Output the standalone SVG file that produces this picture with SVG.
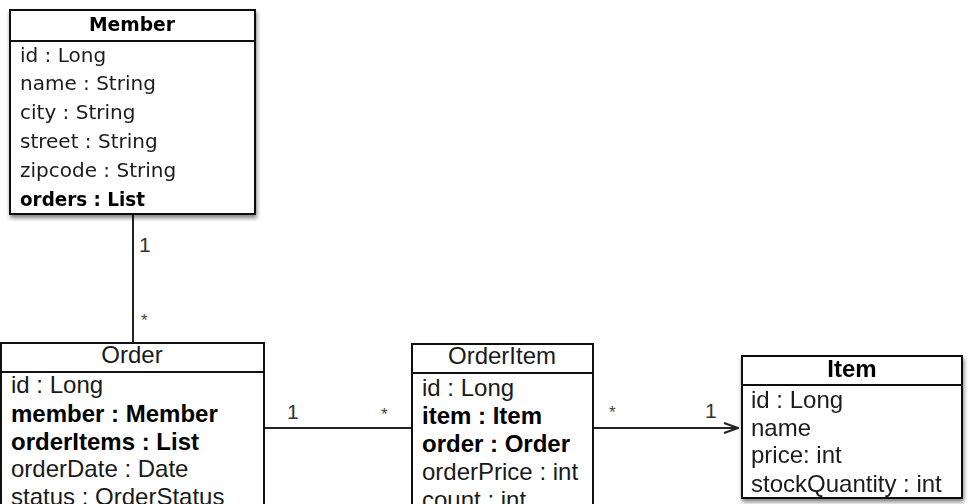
<svg xmlns="http://www.w3.org/2000/svg" width="970" height="504" viewBox="0 0 970 504">
<defs>
<filter id="sh" x="-10%" y="-10%" width="125%" height="125%">
<feGaussianBlur in="SourceAlpha" stdDeviation="2"/>
<feOffset dx="1" dy="3" result="b"/>
<feComponentTransfer><feFuncA type="linear" slope="0.5"/></feComponentTransfer>
<feMerge><feMergeNode/><feMergeNode in="SourceGraphic"/></feMerge>
</filter>
<marker id="open" viewBox="0 0 16 12" refX="15" refY="6" markerWidth="16" markerHeight="12" markerUnits="userSpaceOnUse" orient="auto">
<path d="M1,1 L15,6 L1,11" fill="none" stroke="#222" stroke-width="2"/>
</marker>
</defs>
<style>
.box{fill:#fff;stroke:#111;stroke-width:2}
.ln{stroke:#111;stroke-width:2}
.t{font-family:"Liberation Sans",Arial,sans-serif;font-size:24px;fill:#1a1a1a}
.tm{font-family:"DejaVu Sans","Liberation Sans",sans-serif;font-size:20px;fill:#1a1a1a}
.b{font-weight:bold;fill:#000}
.c{text-anchor:middle}
.lbl{font-family:"Liberation Sans",Arial,sans-serif;font-size:21px;fill:#333}
.st{font-family:"Liberation Sans",Arial,sans-serif;font-size:17px;fill:#444}
.conn{stroke:#222;stroke-width:2;fill:none}
</style>
<rect width="970" height="504" fill="#fff"/>
<g id="connectors">
<line class="conn" x1="133" y1="215" x2="133" y2="343"/>
<text class="lbl" x="139" y="252">1</text>
<text class="st" x="141" y="326">*</text>
<line class="conn" x1="264" y1="428" x2="412" y2="428"/>
<text class="lbl" x="287" y="419">1</text>
<text class="st" x="381" y="420">*</text>
<line class="conn" x1="593" y1="428" x2="738" y2="428" marker-end="url(#open)"/>
<text class="st" x="609" y="418">*</text>
<text class="lbl" x="705" y="418">1</text>
</g>
<g id="member" filter="url(#sh)">
<rect class="box" x="10" y="10" width="245" height="204"/>
<line class="ln" x1="10" y1="41" x2="255" y2="41"/>
<text class="tm b c" x="132" y="31" textLength="86" lengthAdjust="spacingAndGlyphs">Member</text>
<text class="tm" x="20" y="62">id : Long</text>
<text class="tm" x="20" y="90">name : String</text>
<text class="tm" x="20" y="119">city : String</text>
<text class="tm" x="20" y="148" fill="#333">street : String</text>
<text class="tm" x="20" y="177" fill="#333">zipcode : String</text>
<text class="tm b" x="20" y="206" textLength="125" lengthAdjust="spacingAndGlyphs">orders : List</text>
</g>
<g id="order">
<rect class="box" x="1" y="343" width="263" height="180"/>
<line class="ln" x1="1" y1="372" x2="264" y2="372"/>
<text class="t c" x="132" y="363">Order</text>
<text class="t" x="11" y="393">id : Long</text>
<text class="t b" x="11" y="422">member : Member</text>
<text class="t b" x="11" y="450">orderItems : List</text>
<text class="t" x="11" y="477" fill="#333">orderDate : Date</text>
<text class="t" x="11" y="505" fill="#333">status : OrderStatus</text>
</g>
<g id="orderitem">
<rect class="box" x="412" y="344" width="181" height="180"/>
<line class="ln" x1="412" y1="373" x2="593" y2="373"/>
<text class="t c" x="502" y="364">OrderItem</text>
<text class="t" x="422" y="396">id : Long</text>
<text class="t b" x="422" y="424">item : Item</text>
<text class="t b" x="422" y="452">order : Order</text>
<text class="t" x="422" y="480" fill="#333">orderPrice : int</text>
<text class="t" x="422" y="508" fill="#333">count : int</text>
</g>
<g id="item" filter="url(#sh)">
<rect class="box" x="742" y="356" width="220" height="142"/>
<line class="ln" x1="742" y1="385" x2="962" y2="385"/>
<text class="t b c" x="852" y="377">Item</text>
<text class="t" x="751" y="408">id : Long</text>
<text class="t" x="751" y="436">name</text>
<text class="t" x="751" y="463">price: int</text>
<text class="t" x="751" y="492">stockQuantity : int</text>
</g>
</svg>
